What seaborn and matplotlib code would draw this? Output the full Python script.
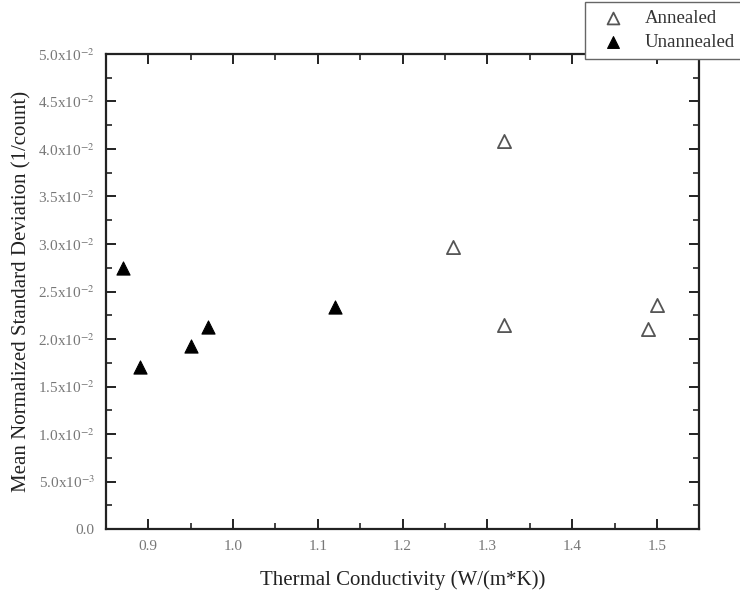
import numpy as np
import pandas as pd
import matplotlib
matplotlib.use("Agg")
import matplotlib.pyplot as plt
from matplotlib.ticker import MultipleLocator, FixedLocator
import seaborn as sns

# data
annealed_k = [1.26, 1.32, 1.32, 1.49, 1.50]
annealed_sd = [0.0297, 0.0408, 0.0215, 0.0211, 0.0236]
unannealed_k = [0.87, 0.89, 0.95, 0.97, 1.12]
unannealed_sd = [0.0275, 0.0171, 0.0193, 0.0213, 0.0234]

ytick_vals = [0.0, 0.005, 0.010, 0.015, 0.020, 0.025, 0.030, 0.035, 0.040, 0.045, 0.050]
ytick_labels = ["0.0", r"5.0x10$^{-3}$", r"1.0x10$^{-2}$", r"1.5x10$^{-2}$", r"2.0x10$^{-2}$",
                r"2.5x10$^{-2}$", r"3.0x10$^{-2}$", r"3.5x10$^{-2}$", r"4.0x10$^{-2}$",
                r"4.5x10$^{-2}$", r"5.0x10$^{-2}$"]
xtick_vals = [0.9, 1.0, 1.1, 1.2, 1.3, 1.4, 1.5]
xtick_labels = ["0.9", "1.0", "1.1", "1.2", "1.3", "1.4", "1.5"]

df = pd.DataFrame({
    "k": annealed_k + unannealed_k,
    "sd": annealed_sd + unannealed_sd,
    "sample": ["Annealed"] * len(annealed_k) + ["Unannealed"] * len(unannealed_k),
})

sns.set_style("ticks")
plt.rcParams["font.family"] = ["Liberation Serif", "DejaVu Serif"]
plt.rcParams["mathtext.fontset"] = "stix"

fig = plt.figure(figsize=(7.4, 5.98), dpi=100)
ax = fig.add_axes([0.143, 0.115, 0.802, 0.795])

sns.scatterplot(data=df[df["sample"] == "Annealed"], x="k", y="sd", marker="^", s=90,
                facecolor="white", edgecolor="#555555", linewidth=1.3, ax=ax, label="Annealed")
sns.scatterplot(data=df[df["sample"] == "Unannealed"], x="k", y="sd", marker="^", s=90,
                color="black", edgecolor="black", ax=ax, label="Unannealed")

ax.set_xlim(0.85, 1.55)
ax.set_ylim(0, 0.05)
ax.xaxis.set_major_locator(FixedLocator(xtick_vals))
ax.set_xticklabels(xtick_labels)
ax.xaxis.set_minor_locator(MultipleLocator(0.05))
ax.set_yticks(ytick_vals)
ax.set_yticklabels(ytick_labels)
ax.yaxis.set_minor_locator(MultipleLocator(0.0025))

for s in ax.spines.values():
    s.set_visible(True)
    s.set_linewidth(1.6)
    s.set_color("#222222")
ax.tick_params(which="both", direction="in", top=True, right=True, colors="#222222",
               labelcolor="#777777", labelsize=11, pad=8)
ax.tick_params(which="major", length=7, width=1.4)
ax.tick_params(which="minor", length=4, width=1.2)

ax.set_xlabel("Thermal Conductivity (W/(m*K))", fontsize=15, color="#222222", labelpad=12)
ax.set_ylabel("Mean Normalized Standard Deviation (1/count)", fontsize=15, color="#222222", labelpad=5)

leg = ax.legend(loc="upper right", bbox_to_anchor=(1.004, 0.997), bbox_transform=fig.transFigure,
                frameon=True, fancybox=False, framealpha=1.0, fontsize=13.5, handletextpad=0.7,
                borderpad=0.45, labelspacing=0.35, borderaxespad=0, markerscale=0.9, handlelength=2.0)
leg.get_frame().set_edgecolor("#666666")
leg.get_frame().set_linewidth(1.0)
for t in leg.get_texts():
    t.set_color("#333333")

plt.savefig("out.png", dpi=100)
